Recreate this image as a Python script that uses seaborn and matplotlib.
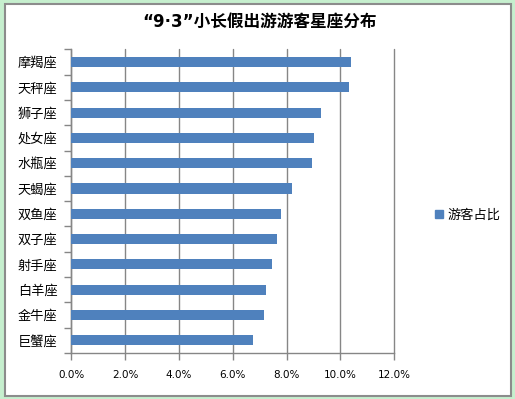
import pandas as pd
import matplotlib
matplotlib.use('Agg')
import matplotlib.pyplot as plt
import seaborn as sns
from matplotlib.patches import Patch, Rectangle
from matplotlib.ticker import PercentFormatter, FixedLocator

# data (percent of tourists)
signs = ['摩羯座', '天秤座', '狮子座', '处女座', '水瓶座', '天蝎座',
         '双鱼座', '双子座', '射手座', '白羊座', '金牛座', '巨蟹座']
share = [10.40, 10.32, 9.28, 9.02, 8.95, 8.20,
         7.79, 7.65, 7.46, 7.24, 7.16, 6.75]
series_name = '游客占比'
xticks = [0, 2, 4, 6, 8, 10, 12]

df = pd.DataFrame({'sign': signs, 'share': share})

sns.set_theme(style='white')
plt.rcParams['font.family'] = ['Noto Sans CJK SC', 'DejaVu Sans']
plt.rcParams['text.color'] = 'black'
plt.rcParams['xtick.labelcolor'] = 'black'
plt.rcParams['ytick.labelcolor'] = 'black'

bar_color = '#4F81BD'
grid_color = '#868686'

fig = plt.figure(figsize=(5.15, 3.99), dpi=100)
fig.patch.set_facecolor('#C6EFCE')
# white chart area with grey frame, kept behind the axes
fig.patches.append(Rectangle((4.5 / 515, 3.5 / 399), 506 / 515, 392 / 399,
                             transform=fig.transFigure, facecolor='white',
                             edgecolor='#8C8C8C', linewidth=1.5, zorder=-10))

ax = fig.add_axes([71.3 / 515, 46 / 399, 323 / 515, 303.7 / 399])
ax.set_facecolor('none')
sns.barplot(data=df, x='share', y='sign', orient='h', color=bar_color,
            width=0.4, saturation=1, linewidth=0, ax=ax, zorder=3)

ax.set_xlim(0, 12)
ax.set_ylim(11.5, -0.5)
ax.xaxis.set_major_locator(FixedLocator(xticks))
ax.xaxis.set_major_formatter(PercentFormatter(decimals=1))
ax.grid(axis='x', color=grid_color, linewidth=1, zorder=0)
ax.set_axisbelow(True)
for gl in ax.get_xgridlines():
    gl.set_clip_on(False)
ax.set_xlabel('')
ax.set_ylabel('')

for s in ['top', 'right']:
    ax.spines[s].set_visible(False)
for s in ['left', 'bottom']:
    ax.spines[s].set_color(grid_color)
    ax.spines[s].set_linewidth(1)

# category ticks sit between bars in Excel style
ax.yaxis.set_minor_locator(FixedLocator([i - 0.5 for i in range(len(signs) + 1)]))
ax.tick_params(axis='y', which='major', length=0, pad=10, labelsize=9.5,
               labelcolor='black')
ax.tick_params(axis='y', which='minor', left=True, length=5, width=1, color=grid_color)
ax.tick_params(axis='x', which='major', bottom=True, length=5, width=1,
               color=grid_color, pad=7, labelsize=7.5, labelcolor='black')
for lab in ax.get_xticklabels():
    lab.set_family('DejaVu Sans')

fig.text(259 / 515, 1 - 22 / 399, '“9·3”小长假出游游客星座分布',
         ha='center', va='center', fontsize=12, fontweight='bold', color='black',
         family=['DejaVu Sans', 'Noto Sans CJK SC'])

fig.legend(handles=[Patch(color=bar_color, label=series_name)],
           loc='center left', bbox_to_anchor=(428 / 515, 1 - 215 / 399),
           frameon=False, fontsize=9.5, handlelength=0.6, handleheight=0.6,
           handletextpad=0.4, borderpad=0, labelcolor='black')

fig.savefig('out.png', dpi=100, facecolor=fig.get_facecolor())
